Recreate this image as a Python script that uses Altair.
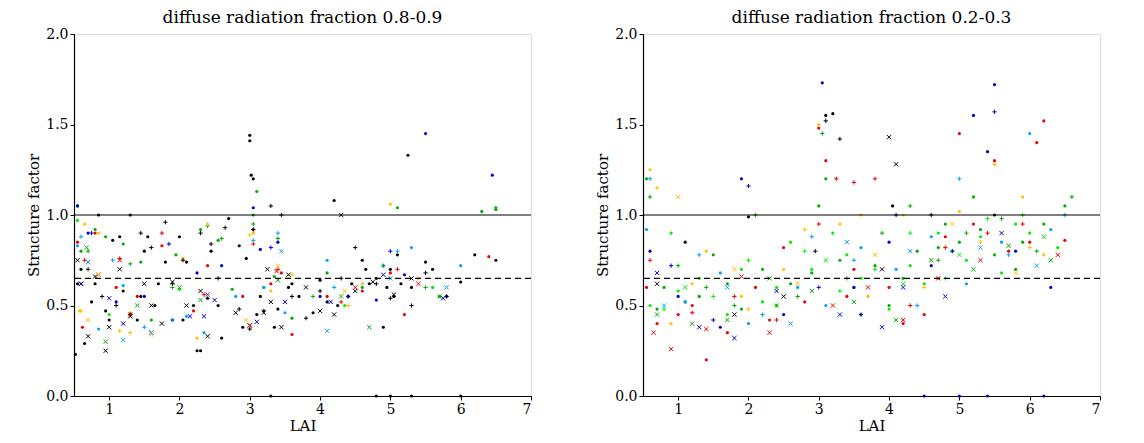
import altair as alt
import pandas as pd

P1 = {
 ("black","dot"): "0.52:0.23,0.55:0.62,0.6:0.7,0.65:0.29,0.75:0.52,0.85:1.0,0.95:0.47,1.05:0.86,1.15:0.88,1.3:1.0,1.4:0.42,1.5:0.8,1.55:0.88,1.65:0.5,1.8:0.74,1.9:0.42,2.0:0.88,2.1:0.74,2.2:0.5,2.25:0.25,2.3:0.25,2.45:0.8,2.6:0.32,2.7:0.98,2.85:0.83,2.95:0.76,3.0:1.44,3.0:1.41,3.02:1.22,3.05:1.2,3.1:0.45,3.2:0.47,3.35:0.38,3.55:0.6,3.7:0.55,3.9:0.46,4.0:0.64,4.2:1.08,4.25:0.5,4.4:0.55,4.6:0.75,4.7:0.62,4.8:0.65,4.9:0.38,5.0:0.7,5.05:0.55,5.1:0.78,5.25:1.33,5.3:0.6,5.5:0.74,5.6:0.7,6.0:0.63,6.2:0.78,6.5:0.75,3.3:0,4.8:0,5.0:0,5.3:0,6.0:0,0.8:0.62,1.0:0.42,1.2:0.58,1.45:0.55,1.7:0.62,2.05:0.42,2.4:0.54,2.55:0.5,2.9:0.38,3.15:0.55,3.4:0.48,3.6:0.62,4.1:0.52,4.45:0.62,4.65:0.7,4.95:0.6,5.15:0.62",
 ("black","plus"): "0.7:0.7,0.9:0.55,1.1:0.5,1.3:0.45,1.45:0.9,1.6:0.82,1.8:0.96,1.9:0.62,2.05:0.75,2.3:0.9,2.45:0.84,2.55:0.65,2.65:0.93,2.85:0.48,3.0:0.37,3.05:0.92,3.3:1.05,3.45:1.0,3.6:0.55,3.8:0.43,4.0:0.58,4.3:0.65,4.5:0.82,4.8:0.62,5.0:0.54,5.3:0.5,5.5:0.68,5.8:0.55",
 ("black","x"): "0.55:0.75,0.6:0.62,0.7:0.33,0.8:0.66,0.95:0.25,1.0:0.38,1.15:0.7,1.3:0.44,1.5:0.62,1.6:0.5,1.75:0.4,1.9:0.63,2.1:0.5,2.3:0.58,2.4:0.33,2.8:0.46,3.0:0.39,3.2:0.46,3.25:0.7,3.3:0.52,3.45:0.38,3.55:0.67,3.8:0.6,4.0:0.47,4.2:0.45,4.3:1.0,4.5:0.58,4.75:0.63,5.05:0.56,5.3:0.65",
 ("red","dot"): "0.55:0.85,0.62:0.38,0.8:0.9,1.1:0.6,1.4:0.55,1.75:0.83,2.2:0.47,2.4:0.72,2.9:0.55,3.05:0.92,3.3:0.62,3.45:0.68,3.6:0.34,4.1:0.55,4.6:0.58,5.0:0.68,5.2:0.45,6.4:0.77",
 ("red","plus"): "0.65:0.75,1.15:0.76,1.75:0.9,2.35:0.56,3.05:0.84,3.4:0.7,4.3:0.52,5.1:0.7",
 ("red","x"): "0.7:0.74,0.85:0.67,1.15:0.75,1.3:0.45,2.4:0.56,3.0:0.39,3.38:0.69,4.5:0.6,5.4:0.62",
 ("green","dot"): "0.55:1.05,0.6:0.8,0.8:0.92,0.95:0.88,1.2:0.84,1.45:0.74,1.6:0.42,1.95:0.78,2.3:0.92,2.55:0.86,2.75:0.59,3.05:1.0,3.1:1.13,3.35:0.66,3.6:0.43,4.1:0.68,4.6:0.6,5.1:1.04,5.7:0.55,6.3:1.02,6.5:1.03",
 ("green","plus"): "0.7:0.8,1.3:0.73,1.9:0.6,2.4:0.94,2.6:0.87,3.05:0.95,3.4:0.87,3.9:0.55,4.9:0.72,5.5:0.6,6.5:1.04",
 ("green","x"): "0.68:0.82,0.95:0.3,1.4:0.5,2.0:0.6,2.3:0.53,3.4:0.64,4.3:0.55,4.7:0.38,5.7:0.55",
 ("lime","dot"): "0.55:0.97,1.0:0.45,2.0:0.59,3.2:0.6,4.35:0.5,5.6:0.6",
 ("blue","dot"): "0.55:1.05,0.7:0.9,1.1:0.52,1.5:0.55,2.25:0.68,2.6:0.72,3.05:1.04,3.15:0.81,3.4:0.85,4.0:0.55,4.8:0.53,5.2:0.67,5.5:1.45,5.8:0.55,6.45:1.22",
 ("blue","plus"): "0.75:0.9,1.85:0.84,3.3:0.82,4.4:0.55,5.0:0.8",
 ("blue","x"): "0.6:0.62,1.0:0.54,1.2:0.4,1.6:0.35,2.15:0.44,2.35:0.44,2.5:0.53,3.1:0.41,3.5:0.52,4.15:0.52,4.9:0.67,5.75:0.54",
 ("lightblue","dot"): "0.55:0.83,0.85:0.37,1.2:0.61,2.1:0.44,2.35:0.35,2.8:0.55,3.2:0.6,3.5:0.46,4.1:0.75,4.9:0.72,5.3:0.82,6.0:0.72",
 ("lightblue","plus"): "0.6:0.88,1.05:0.75,1.5:0.38,1.9:0.42,3.05:0.86,3.4:0.9,4.2:0.6,5.1:0.8",
 ("lightblue","x"): "0.7:0.74,1.2:0.31,1.6:0.35,2.4:0.55,3.45:0.8,4.1:0.36,5.0:0.65,5.8:0.6",
 ("gold","dot"): "0.58:0.47,0.65:0.95,0.85:0.9,1.3:0.46,2.05:0.76,2.25:0.32,3.05:0.9,3.3:0.58,4.6:0.62,5.0:1.06,5.4:0.65",
 ("gold","plus"): "0.6:0.47,1.15:0.36,1.3:0.35,2.4:0.95,3.0:0.89,3.6:0.67,4.4:0.5",
 ("gold","x"): "0.7:0.42,0.85:0.67,1.6:0.34,2.95:0.42,3.4:0.72,4.35:0.58",
}

P2 = {
 ("black","dot"): "3.1:1.55,3.2:1.56,4.05:1.05,5.5:1.0,2.0:0.99,1.1:0.85",
 ("black","plus"): "3.1:1.52,3.3:1.42,2.95:0.8,4.6:1.0",
 ("black","x"): "4.0:1.43,4.1:1.28,0.7:0.62,2.5:0.55,3.9:0.7,1.8:0.45",
 ("red","dot"): "0.55:0.6,0.7:0.4,1.0:0.45,1.4:0.2,1.7:0.35,2.1:0.6,2.5:0.82,3.0:1.48,3.1:1.3,3.5:0.7,4.0:0.6,4.5:0.45,5.0:1.45,5.2:0.95,5.5:1.3,6.0:0.85,6.2:1.52,6.1:1.4,6.5:0.86,1.2:0.5,2.3:0.42,2.8:0.52,3.4:0.55,4.2:0.4,4.8:0.88,5.7:0.8",
 ("red","plus"): "0.6:0.75,1.2:0.46,1.8:0.55,2.4:0.42,3.0:0.95,3.25:1.2,3.5:1.18,3.8:1.2,4.3:0.5,4.8:0.82,5.4:0.9,5.9:0.95",
 ("red","x"): "0.65:0.35,0.9:0.26,1.4:0.37,1.9:0.66,2.3:0.35,3.2:0.5,3.7:0.6,4.2:0.42,4.7:0.65,5.3:0.75,6.4:0.78",
 ("green","dot"): "0.55:1.2,0.8:0.6,1.1:0.52,1.5:0.78,1.9:0.48,2.2:0.7,2.6:0.62,3.0:1.05,3.1:1.2,3.3:0.75,3.6:0.45,4.0:0.5,4.4:0.8,4.8:0.95,5.0:0.85,5.2:1.1,5.5:0.78,5.8:0.7,6.2:0.95,6.5:1.05,0.7:0.48,1.3:0.55,1.7:0.62,2.4:0.5,2.9:0.68,3.5:0.6,3.8:0.72,4.2:0.65,4.7:0.82,5.3:0.92,5.9:0.85",
 ("green","plus"): "0.6:1.1,1.0:0.72,1.4:0.6,1.8:0.5,2.1:1.0,2.7:0.55,3.05:1.45,3.4:0.65,3.9:0.9,4.3:1.05,4.7:0.75,5.1:0.9,5.6:0.98,6.1:0.8,6.6:1.1",
 ("green","x"): "0.7:0.45,1.2:0.4,1.7:0.42,2.3:0.65,2.9:0.58,3.5:0.52,4.1:0.42,4.6:0.75,5.2:0.7,5.7:0.83,6.3:0.75",
 ("lime","dot"): "0.6:0.5,0.9:0.9,1.3:0.65,1.7:0.45,2.2:0.52,2.6:0.85,2.9:0.7,3.2:0.9,3.6:0.65,4.0:0.48,4.5:0.62,4.9:0.8,5.3:0.88,5.6:0.68,6.0:0.9,6.4:0.82,1.0:0.58,1.9:0.7,2.4:0.6,3.4:0.78,4.3:0.72,4.7:0.9,5.1:0.75,5.8:0.95",
 ("lime","plus"): "0.8:0.48,1.5:0.55,2.0:0.75,2.8:0.8,3.3:0.58,3.8:0.7,4.3:0.9,4.8:0.65,5.4:0.98,5.9:1.0",
 ("lime","x"): "1.1:0.6,2.4:0.5,3.1:0.75,4.2:0.62,5.0:0.78,6.2:0.88",
 ("blue","dot"): "0.6:0.8,1.0:0.55,1.6:0.38,1.9:1.2,2.5:0.45,3.05:1.73,3.5:0.6,4.0:0.85,4.6:0.72,5.2:1.55,5.5:1.72,5.4:1.35,5.8:0.8,6.3:0.6,4.5:0,5.0:0,5.4:0,6.2:0",
 ("blue","plus"): "0.9:0.72,1.5:0.42,2.0:1.16,3.0:0.6,3.6:0.45,4.1:1.0,4.9:0.8,5.5:1.57",
 ("blue","x"): "0.7:0.68,1.3:0.38,1.8:0.32,2.4:0.58,3.3:0.45,3.9:0.38,4.2:0.6,4.8:0.55,5.6:0.9",
 ("lightblue","dot"): "0.55:0.92,1.1:0.52,1.6:0.68,2.0:0.4,2.7:0.6,3.1:0.5,3.6:0.82,4.1:0.7,4.6:0.88,5.1:0.62,5.6:0.85,6.0:1.45,6.3:0.92",
 ("lightblue","plus"): "0.6:1.2,1.3:0.78,2.2:0.45,2.9:0.88,3.5:0.75,4.4:0.5,5.0:1.2,5.7:0.78,6.5:1.0",
 ("lightblue","x"): "0.8:0.5,1.7:0.6,2.6:0.4,3.4:0.85,4.3:0.8,5.3:0.82,6.1:0.72",
 ("gold","dot"): "0.6:1.25,0.9:0.4,1.4:0.8,1.9:0.55,2.5:0.7,3.0:1.5,3.3:0.95,3.7:0.55,4.2:1.0,4.7:0.65,5.0:1.02,5.5:1.28,5.9:1.1,6.2:0.78",
 ("gold","plus"): "0.7:1.15,1.2:0.62,2.0:0.48,2.8:0.92,3.6:1.0,4.5:0.6,5.3:0.85,6.0:0.82",
 ("gold","x"): "1.0:1.1,1.8:0.7,2.7:0.62,3.8:0.78,4.9:0.95,5.8:0.68",
}

COLORS = {"black": "#000000", "red": "#ee0000", "green": "#00aa00", "lime": "#00ee00",
          "blue": "#0000cc", "lightblue": "#00a0ff", "gold": "#ffc000"}
PATHS = {"plus": "M-1,0L1,0M0,-1L0,1", "x": "M-1,-1L1,1M-1,1L1,-1"}
FONT = "DejaVu Serif"

def frame(groups):
    rows = []
    for (c, m), s in groups.items():
        for pair in s.split(","):
            x, y = pair.split(":")
            rows.append({"lai": float(x), "sf": float(y), "col": COLORS[c], "mk": m})
    return pd.DataFrame(rows)

def panel(groups, title):
    df = frame(groups)
    common = dict(grid=False, tickSize=4, domain=True, domainColor="black", domainWidth=1.2,
                  tickColor="black", labelFont=FONT, titleFont=FONT, labelFontSize=14,
                  titleFontSize=15, titleFontWeight="normal", labelColor="black", titleColor="black")
    xs = alt.X("lai:Q", scale=alt.Scale(domain=[0.5, 7], nice=False),
               axis=alt.Axis(values=[1, 2, 3, 4, 5, 6, 7], title="LAI", titlePadding=2, **common))
    ys = alt.Y("sf:Q", scale=alt.Scale(domain=[0, 2], nice=False),
               axis=alt.Axis(values=[0, 0.5, 1, 1.5, 2], format=".1f", title="Structure factor", **common))
    base = alt.Chart(df)
    dots = base.transform_filter(alt.datum.mk == "dot").mark_circle(size=10, opacity=1).encode(
        x=xs, y=ys, color=alt.Color("col:N", scale=None))
    marks = base.transform_filter(alt.datum.mk != "dot").mark_point(filled=False, size=18, strokeWidth=1, opacity=1).encode(
        x=xs, y=ys, color=alt.Color("col:N", scale=None),
        shape=alt.Shape("mk:N", scale=alt.Scale(domain=list(PATHS), range=list(PATHS.values())), legend=None))
    one = alt.Chart(pd.DataFrame({"v": [1.0]})).mark_rule(color="black", strokeWidth=1.2).encode(y="v:Q")
    dash = alt.Chart(pd.DataFrame({"v": [0.65]})).mark_rule(color="black", strokeWidth=1.2, strokeDash=[6, 4]).encode(y="v:Q")
    return alt.layer(dots, marks, one, dash).properties(
        width=457, height=362,
        title=alt.TitleParams(title, font=FONT, fontSize=17, fontWeight="normal", color="black", offset=0))

chart = alt.hconcat(panel(P1, "diffuse radiation fraction 0.8-0.9"),
                    panel(P2, "diffuse radiation fraction 0.2-0.3"), spacing=62
).properties(padding={"left": 18, "top": 0, "right": 0, "bottom": 0}
).configure_view(stroke="black", strokeWidth=1.2).configure(background="white")

chart.save("out.html", embed_options={"renderer": "svg", "actions": False})
